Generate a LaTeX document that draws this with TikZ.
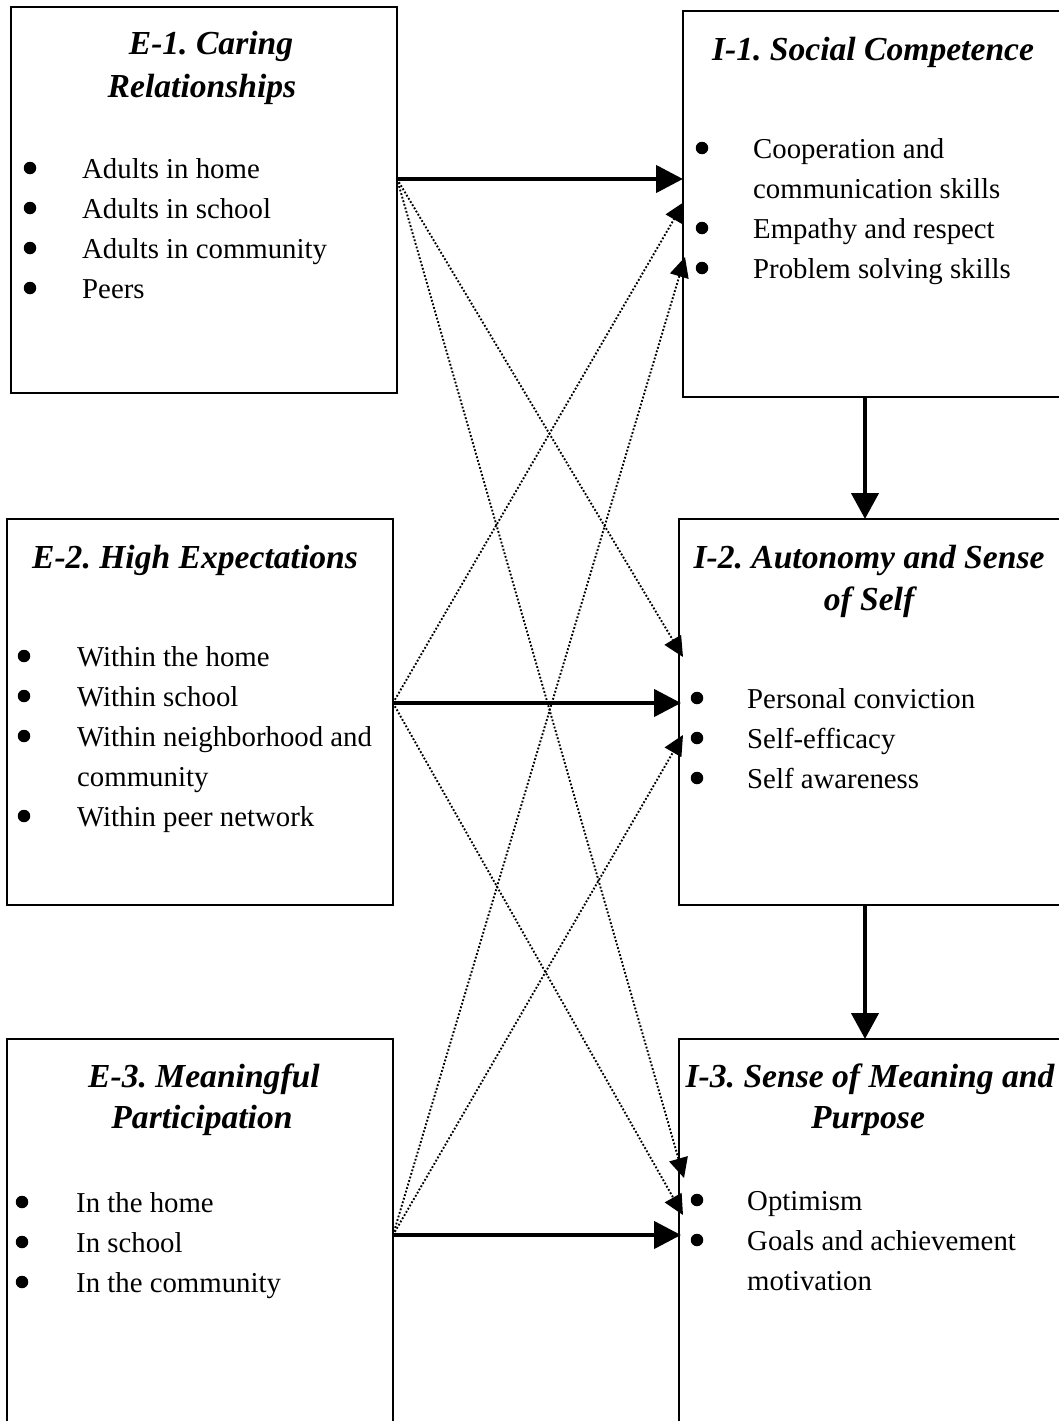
\documentclass[tikz,border=0pt]{standalone}
\usepackage{fontspec}
\setmainfont{Liberation Serif}
\usetikzlibrary{arrows.meta}
\frenchspacing
\begin{document}
\frenchspacing
\begin{tikzpicture}[x=1pt,y=-1pt,
  box/.style={draw, line width=2.8pt, rectangle, inner sep=0pt, outer sep=0pt, anchor=north west},
  ttl/.style={font=\fontsize{33.6}{42}\selectfont\bfseries\itshape, inner sep=0pt, anchor=base},
  itm/.style={font=\fontsize{28.8}{40}\selectfont, inner sep=0pt, anchor=base west},
  bul/.style={circle, fill=black, inner sep=0pt, minimum size=12.5pt},
  mainarrow/.style={line width=4.4pt, -{Triangle[length=27pt,width=27pt]}},
  crossarrow/.style={line width=1.9pt, dash pattern=on 1.8pt off 1.9pt, -{Triangle[length=20pt,width=19pt]}},
  vertarrow/.style={line width=4.4pt, -{Triangle[length=26pt,width=27pt]}}
]
\useasboundingbox (0,0) rectangle (1059,1421);
\clip (0,0) rectangle (1059,1421);
\fill[white] (0,0) rectangle (1059,1421);

% boxes
\node[box, minimum width=386pt, minimum height=386pt] (e1) at (11,7) {};
\node[box, minimum width=377pt, minimum height=386pt] (i1) at (683,11) {};
\node[box, minimum width=386pt, minimum height=386pt] (e2) at (7,519) {};
\node[box, minimum width=381pt, minimum height=386pt] (i2) at (679,519) {};
\node[box, minimum width=386pt, minimum height=392pt] (e3) at (7,1039) {};
\node[box, minimum width=381pt, minimum height=392pt] (i3) at (679,1039) {};

% helper coordinates (rows / columns)
\coordinate (r1) at (0,179);
\coordinate (r2) at (0,703);
\coordinate (r3) at (0,1235);
\coordinate (a12) at (0,202);
\coordinate (a13) at (0,257);
\coordinate (a21) at (0,657);
\coordinate (a23) at (0,735);
\coordinate (a31) at (0,1178);
\coordinate (a32) at (0,1215);
\coordinate (vc) at (865,0);

% dotted cross connectors
\draw[crossarrow] (e1.east |- r1) -- ([xshift=4pt]i2.west |- a21);
\draw[crossarrow] (e1.east |- r1) -- ([xshift=5pt]i3.west |- a31);
\draw[crossarrow] (e2.east |- r2) -- ([xshift=1pt]i1.west |- a12);
\draw[crossarrow] (e2.east |- r2) -- ([xshift=4pt]i3.west |- a32);
\draw[crossarrow] (e3.east |- r3) -- ([xshift=2pt]i1.west |- a13);
\draw[crossarrow] (e3.east |- r3) -- ([xshift=4pt]i2.west |- a23);

% solid connectors
\draw[mainarrow] (e1.east |- r1) -- (i1.west |- r1);
\draw[mainarrow] (e2.east |- r2) -- ([xshift=2pt]i2.west |- r2);
\draw[mainarrow] (e3.east |- r3) -- ([xshift=2pt]i3.west |- r3);
\draw[vertarrow] (i1.south -| vc) -- (i2.north -| vc);
\draw[vertarrow] (i2.south -| vc) -- (i3.north -| vc);

% E-1
\node[ttl] (e1t1) at (211,55) {E-1. Caring};
\node[ttl] (e1t2) at (202,97) {Relationships};
\node[bul] (e1b1) at (30,168) {};
\node[bul] (e1b2) at (30,208) {};
\node[bul] (e1b3) at (30,248) {};
\node[bul] (e1b4) at (30,288) {};
\node[itm] (e1l1) at (82,178) {Adults in home};
\node[itm] (e1l2) at (82,218) {Adults in school};
\node[itm] (e1l3) at (82,258) {Adults in community};
\node[itm] (e1l4) at (82,298) {Peers};

% I-1
\node[ttl] (i1t1) at (873,60) {I-1. Social Competence};
\node[bul] (i1b1) at (702,148) {};
\node[bul] (i1b2) at (702,228) {};
\node[bul] (i1b3) at (702,268) {};
\node[itm] (i1l1) at (753,158) {Cooperation and};
\node[itm] (i1l2) at (753,198) {communication skills};
\node[itm] (i1l3) at (753,238) {Empathy and respect};
\node[itm] (i1l4) at (753,278) {Problem solving skills};

% E-2
\node[ttl] (e2t1) at (195,568) {E-2. High Expectations};
\node[bul] (e2b1) at (24,656) {};
\node[bul] (e2b2) at (24,696) {};
\node[bul] (e2b3) at (24,736) {};
\node[bul] (e2b4) at (24,816) {};
\node[itm] (e2l1) at (77,666) {Within the home};
\node[itm] (e2l2) at (77,706) {Within school};
\node[itm] (e2l3) at (77,746) {Within neighborhood and};
\node[itm] (e2l4) at (77,786) {community};
\node[itm] (e2l5) at (77,826) {Within peer network};

% I-2
\node[ttl] (i2t1) at (869,568) {I-2. Autonomy and Sense};
\node[ttl] (i2t2) at (869,610) {of Self};
\node[bul] (i2b1) at (697,698) {};
\node[bul] (i2b2) at (697,738) {};
\node[bul] (i2b3) at (697,778) {};
\node[itm] (i2l1) at (747,708) {Personal conviction};
\node[itm] (i2l2) at (747,748) {Self-efficacy};
\node[itm] (i2l3) at (747,788) {Self awareness};

% E-3
\node[ttl] (e3t1) at (204,1087) {E-3. Meaningful};
\node[ttl] (e3t2) at (202,1128) {Participation};
\node[bul] (e3b1) at (22,1202) {};
\node[bul] (e3b2) at (22,1242) {};
\node[bul] (e3b3) at (22,1282) {};
\node[itm] (e3l1) at (76,1212) {In the home};
\node[itm] (e3l2) at (76,1252) {In school};
\node[itm] (e3l3) at (76,1292) {In the community};

% I-3
\node[ttl] (i3t1) at (870,1087) {I-3. Sense of Meaning and};
\node[ttl] (i3t2) at (868,1128) {Purpose};
\node[bul] (i3b1) at (697,1200) {};
\node[bul] (i3b2) at (697,1240) {};
\node[itm] (i3l1) at (747,1210) {Optimism};
\node[itm] (i3l2) at (747,1250) {Goals and achievement};
\node[itm] (i3l3) at (747,1290) {motivation};
\end{tikzpicture}
\end{document}
